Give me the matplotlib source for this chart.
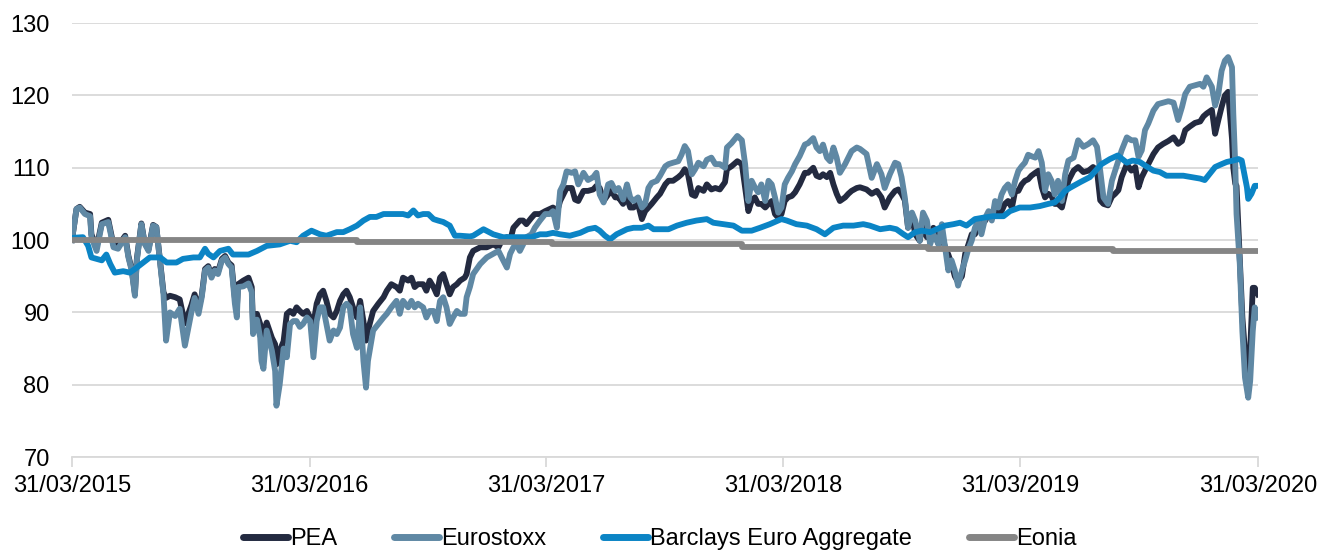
import pandas as pd
import matplotlib.dates as mdates
from matplotlib import pyplot as plt

start = pd.Timestamp('2015-03-31')

# days since 31/03/2015 (PEA and Eurostoxx share the same dates)
days = [0, 7, 12, 20, 28, 30, 38, 46, 56, 64,
        71, 82, 87, 92, 97, 100, 107, 112, 118, 125,
        130, 136, 141, 145, 151, 159, 166, 174, 184, 189,
        195, 200, 205, 210, 215, 220, 225, 231, 236, 241,
        246, 251, 254, 256, 264, 272, 277, 279, 285, 290,
        292, 295, 300, 308, 313, 315, 320, 326, 331, 336,
        341, 346, 351, 356, 362, 367, 372, 377, 382, 387,
        392, 397, 403, 408, 413, 418, 423, 428, 433, 439,
        444, 449, 453, 456, 464, 472, 480, 485, 492, 500,
        505, 510, 518, 523, 528, 533, 541, 546, 551, 557,
        562, 567, 572, 577, 582, 587, 593, 598, 605, 608,
        613, 618, 629, 639, 649, 657, 662, 670, 675, 680,
        685, 690, 695, 700, 708, 713, 721, 729, 736, 741,
        747, 752, 757, 762, 770, 775, 780, 788, 795, 803,
        808, 813, 819, 826, 831, 837, 842, 849, 855, 860,
        865, 872, 878, 883, 888, 893, 901, 906, 914, 919,
        926, 934, 939, 944, 949, 955, 960, 965, 973, 978,
        985, 991, 998, 1006, 1009, 1016, 1025, 1032, 1037, 1042,
        1047, 1052, 1057, 1062, 1068, 1073, 1078, 1083, 1088, 1093,
        1098, 1103, 1109, 1114, 1121, 1129, 1134, 1142, 1147, 1152,
        1157, 1163, 1168, 1173, 1178, 1183, 1191, 1196, 1201, 1209,
        1214, 1224, 1232, 1240, 1247, 1252, 1260, 1268, 1273, 1278,
        1283, 1288, 1294, 1299, 1306, 1311, 1317, 1322, 1327, 1335,
        1340, 1345, 1350, 1355, 1360, 1365, 1371, 1376, 1381, 1386,
        1391, 1396, 1401, 1407, 1412, 1417, 1422, 1427, 1432, 1437,
        1442, 1448, 1453, 1458, 1463, 1468, 1473, 1478, 1484, 1489,
        1494, 1499, 1504, 1509, 1514, 1519, 1525, 1530, 1535, 1543,
        1550, 1558, 1566, 1573, 1579, 1584, 1589, 1596, 1602, 1607,
        1612, 1617, 1625, 1632, 1638, 1643, 1648, 1653, 1658, 1666,
        1673, 1681, 1689, 1697, 1704, 1710, 1715, 1722, 1730, 1738,
        1743, 1748, 1756, 1761, 1766, 1771, 1776, 1781, 1787, 1789,
        1792, 1794, 1799, 1803, 1807, 1812, 1815, 1819, 1822, 1827]

pea = [100, 104.3, 104.6, 103.8, 103.6, 100.8, 99.0, 102.4, 102.8, 99.3,
       99.2, 100.6, 97.8, 96.0, 92.6, 97.4, 102.3, 99.6, 98.7, 102.1,
       101.8, 96.9, 92.8, 92.0, 92.3, 92.1, 91.8, 88.5, 91.0, 92.5,
       90.5, 92.4, 96.0, 96.4, 95.1, 96.0, 95.6, 97.4, 97.8, 96.9,
       96.5, 92.0, 90.5, 93.9, 94.4, 94.8, 93.5, 88.0, 89.8, 88.4,
       86.0, 87.0, 88.6, 86.5, 85.6, 82.8, 84.7, 86.0, 89.8, 90.2,
       89.8, 90.7, 90.2, 89.8, 90.2, 89.3, 88.4, 91.2, 92.5, 93.0,
       91.6, 89.8, 89.3, 90.2, 91.6, 92.5, 93.0, 92.1, 90.7, 89.3,
       91.6, 88.8, 86.1, 87.5, 90.2, 91.2, 92.1, 93.0, 93.9, 93.5,
       93.0, 94.8, 94.4, 94.8, 93.5, 93.9, 93.9, 93.0, 94.4, 93.5,
       92.5, 94.8, 95.3, 93.9, 92.5, 93.5, 93.9, 94.4, 94.8, 95.3,
       97.6, 98.5, 99.0, 99.0, 99.4, 99.0, 99.9, 100.4, 99.9, 101.7,
       102.2, 102.7, 102.7, 102.2, 103.1, 103.6, 103.6, 104.0, 104.3, 104.5,
       103.8, 105.4, 106.3, 107.2, 107.2, 105.6, 105.4, 106.8, 106.8, 107.0,
       107.5, 107.2, 105.4, 106.3, 106.8, 105.9, 105.9, 105.0, 105.9, 104.5,
       104.5, 105.0, 102.9, 104.0, 104.5, 105.0, 105.9, 106.4, 107.7, 108.2,
       108.2, 108.7, 109.1, 109.8, 109.1, 106.3, 106.1, 107.2, 106.8, 107.7,
       107.0, 107.2, 107.0, 108.0, 109.8, 110.2, 110.9, 110.5, 107.2, 104.0,
       105.4, 105.9, 105.0, 105.0, 104.5, 105.0, 105.4, 103.6, 103.1, 103.6,
       105.4, 105.9, 106.1, 106.6, 107.7, 109.3, 109.3, 110.0, 108.9, 108.7,
       109.1, 108.7, 109.3, 107.7, 106.4, 105.4, 105.9, 106.4, 106.8, 107.2,
       107.3, 107.0, 106.4, 106.8, 105.9, 104.5, 105.9, 106.8, 107.0, 106.4,
       105.5, 101.7, 103.5, 100.8, 99.9, 102.2, 100.4, 100.4, 101.7, 99.4,
       100.8, 99.0, 98.0, 96.7, 95.0, 94.2, 95.0, 98.1, 99.4, 100.8,
       100.8, 101.7, 102.2, 102.7, 103.6, 103.1, 104.0, 103.6, 104.0, 105.0,
       105.4, 104.5, 106.8, 106.8, 107.7, 108.2, 108.4, 108.9, 109.3, 109.6,
       107.3, 105.9, 106.4, 106.1, 105.0, 105.0, 104.5, 106.4, 108.2, 109.6,
       110.1, 109.4, 109.6, 110.1, 109.6, 105.5, 105.0, 104.8, 106.0, 106.4,
       106.9, 108.7, 110.5, 109.6, 110.1, 107.3, 108.7, 109.6, 110.5, 111.9,
       112.8, 113.3, 113.7, 114.2, 113.3, 113.7, 115.2, 115.7, 116.2, 116.4,
       117.1, 117.5, 118.0, 114.7, 116.6, 118.4, 120.0, 120.5, 114.0, 110.0,
       107.8, 107.5, 97.5, 89.3, 84.7, 81.0, 84.7, 93.4, 93.4, 92.5]

eurostoxx = [100, 104.3, 104.5, 103.6, 103.3, 100.4, 98.5, 102.2, 102.5, 99.0,
             98.8, 100.4, 97.6, 95.8, 92.3, 97.2, 102.2, 99.5, 98.5, 102.0,
             101.8, 96.7, 92.5, 86.1, 90.0, 89.5, 90.5, 85.4, 90.0, 92.0,
             89.8, 92.1, 95.8, 96.2, 94.8, 95.8, 95.3, 97.2, 97.6, 96.7,
             96.2, 91.2, 89.3, 93.5, 93.6, 94.0, 92.8, 87.0, 89.0, 86.5,
             83.3, 82.2, 87.5, 84.7, 81.9, 77.1, 80.0, 85.0, 83.8, 88.4,
             88.8, 88.8, 88.0, 88.4, 89.3, 88.8, 83.8, 88.8, 90.7, 90.7,
             88.4, 86.1, 87.5, 87.0, 87.9, 90.7, 91.2, 90.7, 87.0, 85.1,
             90.7, 83.3, 79.6, 83.3, 87.5, 88.4, 89.3, 89.8, 90.7, 91.6,
             89.8, 91.6, 90.7, 91.6, 90.7, 91.2, 90.7, 89.3, 90.2, 90.2,
             88.8, 91.6, 92.1, 90.7, 88.4, 89.3, 90.2, 89.8, 89.8, 92.1,
             93.5, 95.3, 96.7, 97.6, 98.1, 98.5, 97.6, 96.2, 98.1, 99.0,
             99.4, 98.5, 99.4, 100.4, 100.8, 101.7, 102.7, 103.6, 103.6, 104.0,
             101.7, 106.8, 107.7, 109.5, 109.3, 109.5, 107.7, 109.3, 108.3, 108.7,
             109.3, 106.3, 105.2, 107.7, 107.9, 106.8, 107.2, 105.6, 107.7, 105.9,
             105.4, 105.9, 104.5, 105.0, 107.2, 107.9, 108.2, 108.9, 110.2, 110.5,
             110.7, 110.9, 111.8, 113.0, 112.3, 109.1, 109.8, 110.7, 110.2, 111.1,
             111.4, 110.5, 110.5, 110.0, 112.8, 113.4, 114.4, 113.8, 110.5, 105.4,
             108.2, 107.3, 106.6, 107.7, 105.4, 108.2, 107.7, 105.9, 103.8, 104.5,
             107.7, 108.6, 109.5, 110.5, 111.6, 113.2, 113.4, 114.1, 112.8, 112.3,
             113.2, 111.4, 110.9, 112.8, 111.4, 109.3, 110.5, 111.4, 112.3, 112.8,
             112.6, 111.9, 108.6, 110.5, 109.1, 107.2, 109.1, 110.7, 110.5, 108.7,
             105.9, 101.7, 103.8, 102.7, 99.9, 103.8, 102.7, 99.4, 100.8, 99.4,
             102.2, 99.0, 95.8, 97.2, 95.8, 93.7, 95.8, 97.2, 98.8, 99.9,
             101.7, 102.7, 100.8, 103.1, 104.0, 102.7, 105.4, 104.5, 106.3, 107.2,
             107.7, 106.3, 108.2, 109.6, 110.2, 110.7, 111.8, 111.6, 111.4, 112.3,
             110.7, 106.8, 109.1, 108.2, 106.3, 108.2, 105.4, 109.1, 111.0, 111.4,
             113.8, 112.9, 113.3, 113.8, 112.9, 109.6, 105.9, 105.0, 108.2, 109.6,
             111.0, 112.4, 114.2, 113.8, 113.8, 111.5, 112.4, 115.2, 116.1, 117.9,
             118.8, 119.0, 119.2, 119.0, 116.6, 118.4, 120.2, 121.2, 121.4, 121.6,
             121.2, 122.5, 121.2, 118.6, 120.2, 123.4, 124.8, 125.3, 123.9, 117.5,
             110.5, 103.6, 96.7, 87.4, 81.0, 78.2, 80.5, 87.4, 90.7, 89.3]

barclays_days = [0, 17, 25, 30, 38, 46, 53, 59, 66, 79,
                 89, 97, 107, 120, 136, 146, 161, 171, 187, 197,
                 205, 210, 218, 228, 241, 248, 261, 272, 285, 300,
                 320, 336, 346, 356, 369, 382, 392, 408, 418, 428,
                 439, 449, 459, 469, 480, 490, 500, 510, 518, 526,
                 533, 541, 549, 557, 564, 572, 582, 590, 598, 613,
                 618, 634, 649, 664, 675, 690, 708, 721, 731, 741,
                 752, 767, 783, 795, 806, 813, 821, 829, 839, 855,
                 865, 878, 888, 896, 906, 919, 932, 947, 962, 978,
                 988, 1003, 1019, 1032, 1047, 1060, 1075, 1093, 1101, 1116,
                 1132, 1147, 1160, 1173, 1188, 1204, 1219, 1229, 1245, 1260,
                 1270, 1281, 1288, 1299, 1309, 1322, 1332, 1345, 1358, 1368,
                 1378, 1391, 1404, 1419, 1435, 1445, 1460, 1476, 1491, 1504,
                 1514, 1522, 1530, 1537, 1553, 1568, 1586, 1599, 1611, 1625,
                 1634, 1645, 1655, 1666, 1676, 1686, 1699, 1712, 1725, 1738,
                 1745, 1753, 1761, 1771, 1779, 1789, 1797, 1802, 1805, 1810,
                 1812, 1817, 1822, 1827]

barclays = [100.3, 100.4, 99.2, 97.6, 97.4, 97.2, 98.0, 96.7, 95.5, 95.7,
            95.5, 96.0, 96.7, 97.6, 97.6, 96.9, 96.9, 97.4, 97.6, 97.6,
            98.8, 98.1, 97.6, 98.5, 98.8, 98.0, 98.0, 98.0, 98.5, 99.2,
            99.4, 99.9, 99.7, 100.6, 101.3, 100.8, 100.6, 101.1, 101.1, 101.5,
            102.0, 102.7, 103.2, 103.2, 103.6, 103.6, 103.6, 103.6, 103.4, 104.1,
            103.4, 103.6, 103.6, 102.9, 102.7, 102.5, 102.0, 100.6, 100.6, 100.5,
            100.6, 101.5, 100.8, 100.4, 100.4, 100.4, 100.4, 100.8, 100.8, 101.0,
            100.8, 100.6, 101.0, 101.5, 101.7, 101.3, 100.6, 100.1, 100.8, 101.5,
            101.7, 101.7, 102.0, 101.5, 101.5, 101.5, 102.0, 102.4, 102.7, 102.9,
            102.4, 102.2, 102.0, 101.3, 101.3, 101.7, 102.2, 102.9, 102.7, 102.2,
            102.0, 101.5, 100.8, 101.7, 102.0, 102.0, 102.2, 102.0, 101.5, 101.7,
            101.5, 100.8, 100.4, 101.1, 101.3, 101.1, 101.5, 102.0, 102.2, 102.4,
            102.0, 102.9, 103.1, 103.3, 103.3, 104.0, 104.5, 104.5, 104.7, 105.0,
            105.2, 105.9, 106.8, 107.2, 108.0, 108.7, 110.5, 111.2, 111.7, 110.7,
            111.0, 110.8, 110.2, 109.6, 109.4, 108.9, 108.9, 108.9, 108.7, 108.5,
            108.3, 109.2, 110.1, 110.5, 110.8, 111.0, 111.2, 111.0, 109.6, 107.3,
            105.7, 106.4, 107.5, 107.5]

eonia_days = [0, 439, 739, 1032, 1319, 1604, 1827]
eonia = [100, 99.7, 99.4, 99.05, 98.8, 98.5, 98.5]

year_ticks = ['2015-03-31', '2016-03-31', '2017-03-31', '2018-03-31', '2019-03-31', '2020-03-31']


def to_dates(d):
    return start + pd.to_timedelta(d, unit='D')


plt.rcParams['font.family'] = ['Liberation Sans', 'DejaVu Sans']

fig = plt.figure(figsize=(13.2, 5.5), dpi=100)
ax = fig.add_axes([0.0545, 0.169, 0.8985, 0.789])

lw = 4.2
ax.plot(to_dates(days), pea, color='#232a40', lw=lw, label='PEA')
ax.plot(to_dates(days), eurostoxx, color='#5f88a4', lw=lw, label='Eurostoxx')
ax.plot(to_dates(barclays_days), barclays, color='#0b84c5', lw=lw, label='Barclays Euro Aggregate')
ax.plot(to_dates(eonia_days), eonia, color='#858585', lw=lw, drawstyle='steps-post', label='Eonia')

ax.set_ylim(70, 130)
ax.set_yticks(range(70, 131, 10))
ax.set_xlim(pd.Timestamp(year_ticks[0]), pd.Timestamp(year_ticks[-1]))
ax.set_xticks([pd.Timestamp(t) for t in year_ticks])
ax.xaxis.set_major_formatter(mdates.DateFormatter('%d/%m/%Y'))

ax.grid(axis='y', color='#d9d9d9', lw=1.3)
ax.set_axisbelow(True)
for s in ['top', 'right', 'left']:
    ax.spines[s].set_visible(False)
ax.spines['bottom'].set_color('#d9d9d9')
ax.spines['bottom'].set_linewidth(1.3)
ax.tick_params(axis='y', length=0, pad=16, labelsize=17)
ax.tick_params(axis='x', length=7, width=1.3, color='#d9d9d9', pad=6, labelsize=17)

leg = fig.legend(loc='lower center', ncol=4, frameon=False, fontsize=17,
                 handlelength=1.9, handletextpad=0.1, columnspacing=2.4,
                 borderaxespad=0.1, bbox_to_anchor=(0.5, -0.022))
for h in leg.get_lines():
    h.set_linewidth(5)
    h.set_solid_capstyle('round')

fig.savefig('out.png')
